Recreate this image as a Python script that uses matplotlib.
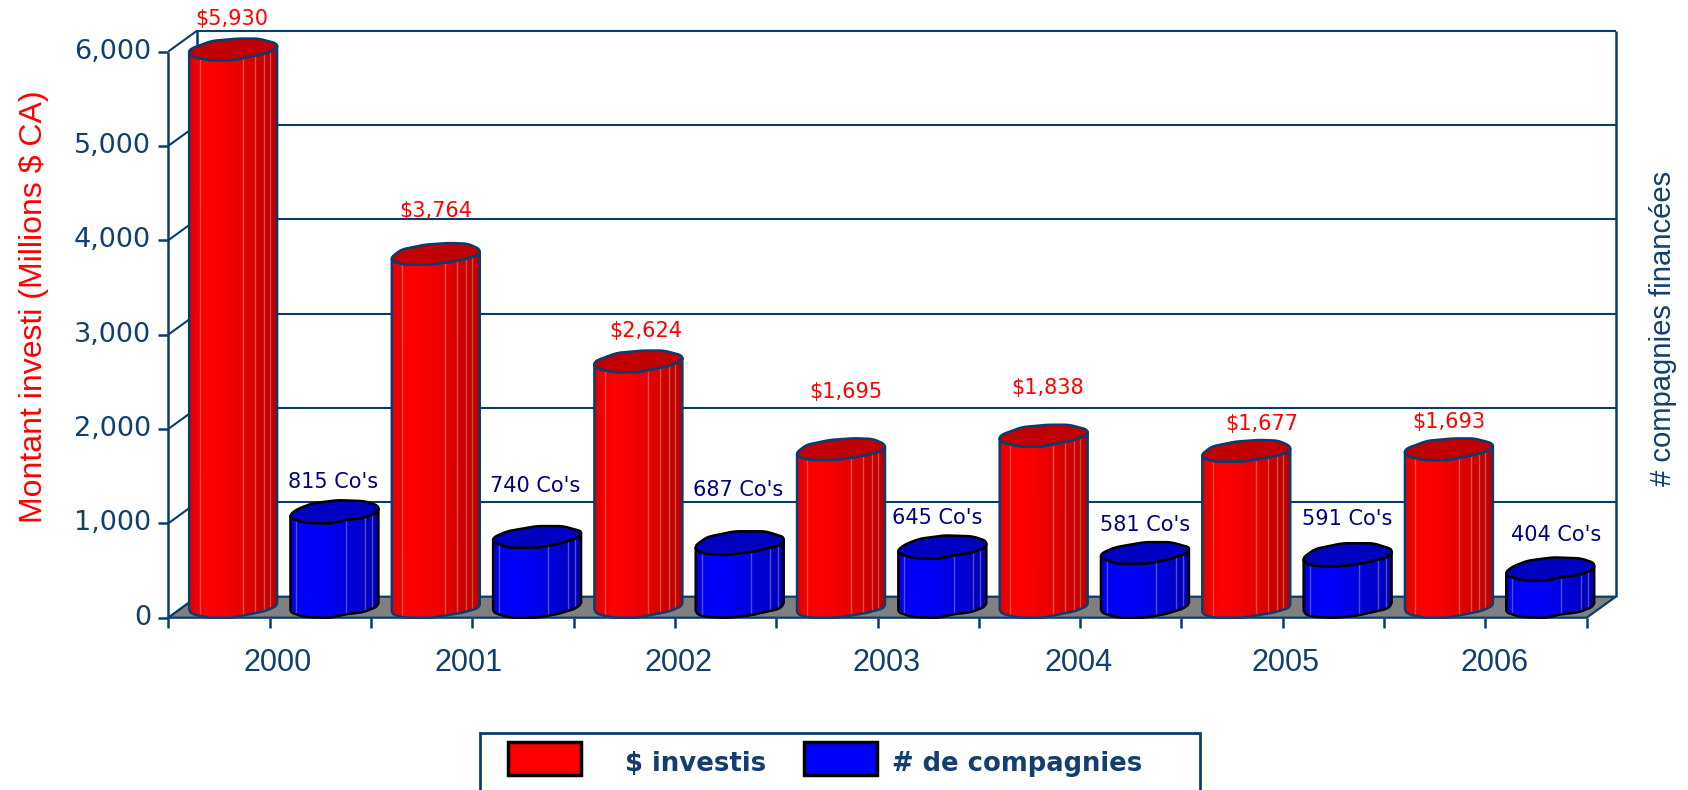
import numpy as np
import matplotlib
matplotlib.use('Agg')
import matplotlib.pyplot as plt
from matplotlib.colors import LinearSegmentedColormap
from matplotlib.patches import Polygon, Rectangle

W, H = 1688, 790

# data
years = ['2000', '2001', '2002', '2003', '2004', '2005', '2006']
invested = [5930, 3764, 2624, 1695, 1838, 1677, 1693]
companies = [815, 740, 687, 645, 581, 591, 404]
# blue bars are not to scale with their labels, heights read off the left axis
company_heights = [1030, 764, 700, 657, 594, 573, 424]
yticks = [0, 1000, 2000, 3000, 4000, 5000, 6000]

# label offsets from bar centre/top in pixels
red_label_dy = [30, 43, 30, 57, 48, 27, 27]
red_label_dx = [-1, 0, 7, 5, 4, 15, 0]
blue_label_dy = [30, 51, 53, 29, 28, 36, 34]
blue_label_dx = [-1, -2, -2, -5, 0, 0, 6]
year_dx = [8, -4, 4, 9, -2, 3, 9]

NAVY = '#0B3C6F'
TEXT = '#123F70'
DARKBLUE = '#000080'
FONT = ['Liberation Sans', 'DejaVu Sans']
WIDE = ['DejaVu Sans']

# wobbly cap outlines: left, over the top, right, back underneath
red_caps = [
    [(565, 155), (575, 145), (635, 122), (710, 115), (770, 115), (825, 130), (828, 142),
     (790, 160), (695, 180), (625, 180), (575, 168)],
    [(318, 97), (350, 70), (420, 55), (490, 50), (545, 52), (583, 70), (580, 85),
     (530, 100), (440, 115), (360, 115), (325, 105)],
]
blue_caps = [
    [(477, 110), (500, 90), (545, 72), (620, 62), (700, 65), (743, 80), (738, 98),
     (695, 115), (640, 122), (600, 132), (525, 130), (480, 115)],
    [(1087, 180), (1095, 170), (1135, 153), (1220, 138), (1295, 138), (1355, 155), (1335, 175),
     (1280, 192), (1220, 203), (1140, 203), (1090, 187)],
    [(623, 458), (660, 430), (740, 413), (830, 413), (888, 432), (875, 455),
     (830, 465), (790, 475), (720, 483), (650, 480), (625, 468)],
]

fig = plt.figure(figsize=(W / 100, H / 100), dpi=100, facecolor='white')
x0, x1, y0, y1 = 168.3, 1586.7, 617.7, 51.5
ax = fig.add_axes([x0 / W, (H - y0) / H, (x1 - x0) / W, (y0 - y1) / H])
ax.set_xlim(0, 14)
ax.set_ylim(0, 6000)
ax.axis('off')

xpx = (x1 - x0) / 14
ypx = (y0 - y1) / 6000
depth_x, depth_y = 29 / xpx, 21 / ypx


def line(xs, ys, lw=1.8, z=1):
    ax.plot(xs, ys, color=NAVY, lw=lw, clip_on=False, zorder=z, solid_capstyle='butt')


# walls, floor and gridlines
for v in yticks:
    line([0, depth_x], [v, v + depth_y], lw=1.5)
    line([-10 / xpx, 0], [v, v], lw=1.8)
    if v > 0:
        line([depth_x, 14 + depth_x], [v + depth_y, v + depth_y], lw=1.5)
    ax.text(-17 / xpx, v, format(v, ','), ha='right', va='center', fontsize=19.5,
            family=WIDE, color=TEXT)
line([0, 0], [0, 6000], lw=1.8)
line([depth_x, depth_x], [depth_y, 6000 + depth_y], lw=1.8)
line([14 + depth_x, 14 + depth_x], [depth_y, 6000 + depth_y], lw=1.8)
ax.add_patch(Polygon([(0, 0), (14, 0), (14 + depth_x, depth_y), (depth_x, depth_y)], closed=True,
                     fc='#808080', ec=NAVY, lw=1.6, clip_on=False, zorder=2))
for t in range(15):
    line([t, t], [0, -10 / ypx], lw=1.8)


def cap_shape(points):
    # round off the traced outline: resample the closed loop and run a small window over it
    pts = np.array(points, dtype=float)
    cx = (pts[:, 0].min() + pts[:, 0].max()) / 2
    cy = (pts[:, 1].min() + pts[:, 1].max()) / 2
    wid = pts[:, 0].max() - pts[:, 0].min()
    loop = np.vstack([pts, pts[:1]])
    seg = np.r_[0, np.cumsum(np.hypot(*np.diff(loop, axis=0).T))]
    s = np.linspace(0, seg[-1], 160, endpoint=False)
    px = np.interp(s, seg, loop[:, 0])
    py = np.interp(s, seg, loop[:, 1])
    win = np.ones(9) / 9
    px = np.convolve(np.r_[px[-8:], px, px[:8]], win, mode='same')[8:-8]
    py = np.convolve(np.r_[py[-8:], py, py[:8]], win, mode='same')[8:-8]
    wid2 = px.max() - px.min()
    return np.column_stack([(px - (px.max() + px.min()) / 2) / wid2, -(py - cy) / 3 / ypx])


def cylinder(xc, value, points, colors, edge, top, streaks, z):
    shape = cap_shape(points)
    width = 0.868
    sx = xc + shape[:, 0] * width
    sy = shape[:, 1]
    # lower edge of the cap, left to right
    left, right = int(np.argmin(sx)), int(np.argmax(sx))
    idx = np.arange(right, left + 1) if right < left else np.r_[right:len(sx), 0:left + 1]
    low_x, low_y = sx[idx][::-1], sy[idx][::-1]
    order = np.argsort(low_x)
    low_x, low_y = low_x[order], low_y[order]
    xs = np.linspace(sx.min(), sx.max(), 60)
    lows = np.interp(xs, low_x, low_y)
    base = -lows.min()
    X = np.vstack([xs, xs])
    Y = np.vstack([lows + base, lows + 92 + value])
    C = np.vstack([np.linspace(0, 1, 60)] * 2)
    cmap = LinearSegmentedColormap.from_list('cyl', colors)
    ax.pcolormesh(X, Y, C, cmap=cmap, shading='gouraud', zorder=z, clip_on=False, vmin=0, vmax=1)
    for f in streaks:
        i = int(f * 59)
        ax.plot([xs[i], xs[i]], [Y[0, i], Y[1, i]], color='white', alpha=0.3, lw=1,
                zorder=z + 0.1, clip_on=False)
    outline = np.r_[np.column_stack([xs, Y[0]]), np.column_stack([xs, Y[1]])[::-1]]
    ax.add_patch(Polygon(outline, closed=True, fc='none', ec=edge, lw=1.8, zorder=z + 0.2,
                         clip_on=False, joinstyle='round'))
    ax.add_patch(Polygon(np.column_stack([sx, sy + 92 + value]), closed=True, fc=top, ec=edge,
                         lw=1.8, zorder=z + 0.3, clip_on=False, joinstyle='round'))


red_cols = ['#E40000', '#FF0000', '#F80000', '#E60000', '#D00000', '#B80000']
blue_cols = ['#0000E4', '#0000FF', '#0000F8', '#0000E0', '#0000CC', '#0000B0']

for i in range(len(years)):
    xr = 2 * i + 0.64
    xb = 2 * i + 1.64
    cylinder(xr, invested[i], red_caps[i % 2], red_cols, NAVY, '#C00000',
             [0.12, 0.62, 0.76, 0.85, 0.93], 5 + i)
    cylinder(xb, company_heights[i], blue_caps[i % 3], blue_cols, 'black', '#0000C0',
             [0.07, 0.64, 0.85, 0.94], 5.5 + i)
    ax.annotate('$' + format(invested[i], ','), (xr, invested[i] + 92),
                xytext=(red_label_dx[i], red_label_dy[i]), textcoords='offset pixels',
                ha='center', va='center', fontsize=15, family=WIDE, color='#FF0000', zorder=30,
                annotation_clip=False)
    ax.annotate(str(companies[i]) + " Co's", (xb, company_heights[i] + 92),
                xytext=(blue_label_dx[i], blue_label_dy[i]), textcoords='offset pixels',
                ha='center', va='center', fontsize=15, family=WIDE, color=DARKBLUE, zorder=30,
                annotation_clip=False)
    ax.annotate(years[i], (2 * i + 1, 0), xytext=(year_dx[i], -45), textcoords='offset pixels',
                ha='center', va='center', fontsize=22, family=FONT, color=TEXT,
                annotation_clip=False)

# axis titles
fig.text(34.5 / W, 1 - 307 / H, 'Montant investi (Millions $ CA)', rotation=90, ha='center', va='center',
         fontsize=23, family=FONT, color='#FF0000')
fig.text(1663 / W, 1 - 328 / H, '# compagnies financées', rotation=90, ha='center', va='center',
         fontsize=21.1, family=FONT, color=TEXT)


# legend, its lower edge runs off the image
def box(x, y, w, h, **kw):
    fig.add_artist(Rectangle((x / W, 1 - (y + h) / H), w / W, h / H, transform=fig.transFigure, **kw))


box(480, 733, 720, 80, fc='white', ec=NAVY, lw=2)
box(508, 742, 73, 33, fc='#FF0000', ec='black', lw=2.5)
box(804, 742, 73, 33, fc='#0000FF', ec='black', lw=2.5)
fig.text(696 / W, 1 - 764 / H, '$ investis', ha='center', va='center', fontsize=18.7, family=WIDE,
         weight='bold', color=TEXT)
fig.text(1017 / W, 1 - 764 / H, '# de compagnies', ha='center', va='center', fontsize=18.6, family=WIDE,
         weight='bold', color=TEXT)

fig.savefig('out.png', dpi=100)
